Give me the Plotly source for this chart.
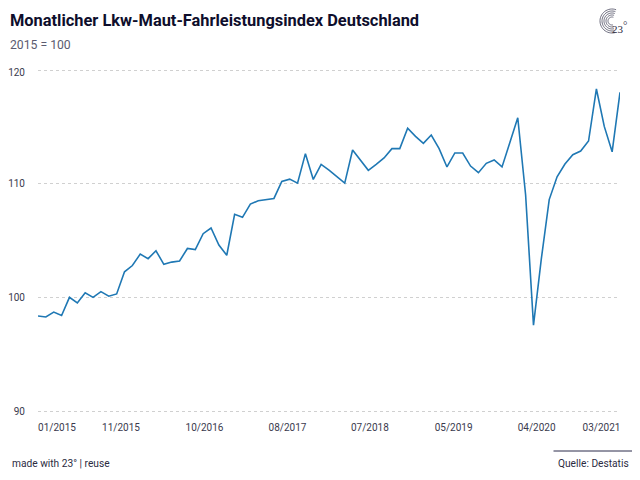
import math
import plotly.graph_objects as go

W, H = 632, 472
OFF = 8
months = [f"{m:02d}/{y}" for y in range(2015, 2022) for m in range(1, 13)][:75]
values = [98.36, 98.27, 98.7, 98.4, 100.0, 99.5, 100.4, 100.0, 100.5, 100.1, 100.3, 102.25,
          102.8, 103.8, 103.4, 104.1, 102.9, 103.1, 103.2, 104.3, 104.2, 105.6, 106.1, 104.6, 103.7,
          107.3, 107.04, 108.2, 108.5, 108.6, 108.7, 110.2, 110.4, 110.05, 112.64, 110.37, 111.7,
          111.2, 110.6, 110.05, 112.96, 112.1, 111.17, 111.7, 112.26, 113.08, 113.08, 114.87, 114.16,
          113.55, 114.28, 113.08, 111.47, 112.7, 112.7, 111.55, 110.97, 111.79, 112.08, 111.47, 113.6,
          115.8, 109.0, 97.55, 103.4, 108.6, 110.6, 111.73, 112.55, 112.87, 113.75, 118.33, 115.04,
          112.8, 118.04]
tick_text = ["01/2015", "11/2015", "10/2016", "08/2017", "07/2018", "05/2019", "04/2020", "03/2021"]
tick_pos = [2.42, 10.55, 21.17, 31.72, 42.2, 52.85, 63.4, 71.65]
y_ticks = [90, 100, 110, 120]
title = "Monatlicher Lkw-Maut-Fahrleistungsindex Deutschland"
subtitle = "2015 = 100"
footer_left = "made with 23° | reuse"
footer_right = "Quelle: Destatis"

def px(x): return (x - OFF) / W
def py(y): return 1 - (y - OFF) / H

def arc(cx, cy, r, a0, a1, n=30):
    pts = []
    for i in range(n + 1):
        a = math.radians(a0 + (a1 - a0) * i / n)
        pts.append((px(cx + r * math.cos(a)), py(cy - r * math.sin(a))))
    return "M" + " L".join(f"{a:.5f},{b:.5f}" for a, b in pts)

fig = go.Figure()
fig.add_trace(go.Scatter(x=months, y=values, mode="lines", showlegend=False, hoverinfo="skip",
                         line=dict(color="#1f78b4", width=1.6)))
fig.add_trace(go.Scatter(x=[], y=[], yaxis="y2", showlegend=False, hoverinfo="skip"))

shapes = [dict(type="line", xref="paper", yref="paper", x0=px(553.5), x1=px(635), y0=py(451), y1=py(451),
               line=dict(color="#2b2b4b", width=1))]
for r in (12, 10, 8, 6, 4):
    shapes.append(dict(type="path", xref="paper", yref="paper", path=arc(612, 21, r, 70, 285),
                       line=dict(color="#4a4a60", width=0.8)))

def note(text, x, y, size, color, xanchor="left", family="Roboto", bold=False):
    return dict(text=f"<b>{text}</b>" if bold else text, x=px(x), y=py(y), xref="paper", yref="paper",
                xanchor=xanchor, yanchor="middle", showarrow=False, xshift=-2,
                font=dict(family=family, size=size, color=color), align="left")

annotations = [
    note(title, 10, 20, 16.4, "#0e0e2c", bold=True),
    note(subtitle, 10, 45, 12.2, "#5b5b70"),
    note(footer_left, 12, 463.5, 10.2, "#2b2b3f"),
    note(footer_right, 558, 463.5, 10.2, "#2b2b3f"),
    note("23", 612, 29, 11, "#2b2b3f", family="Liberation Serif"),
    note("°", 623, 25, 11, "#2b2b3f", family="Liberation Serif"),
]

pad = 0.1
yrange = [90 - pad, 120 + pad]
ydomain = [py(411 + pad * 341 / 30), py(70 - pad * 341 / 30)]

fig.update_layout(
    width=W, height=H, margin=dict(l=0, r=0, t=0, b=0), autosize=False,
    paper_bgcolor="white", plot_bgcolor="white", showlegend=False,
    font=dict(family="Roboto", size=10, color="#3a3a4e"),
    xaxis=dict(type="category", domain=[px(38), px(620)], range=[0, 74], categoryorder="array", automargin=False,
               categoryarray=months, tickmode="array", tickvals=tick_pos, ticktext=tick_text,
               showgrid=False, zeroline=False, showline=False, ticks="outside", ticklen=6,
               tickcolor="rgba(0,0,0,0)", tickfont=dict(family="Roboto", size=10, color="#3a3a4e")),
    yaxis=dict(domain=ydomain, range=yrange, tickmode="array", tickvals=y_ticks, automargin=False,
               showticklabels=False, showgrid=True, gridcolor="#d0d0d0", griddash="3px,3px", gridwidth=1,
               zeroline=False, showline=False),
    yaxis2=dict(domain=ydomain, range=yrange, overlaying="y", side="left", tickmode="array",
                tickvals=[90, 100, 110, 119.75], ticktext=[str(v) for v in y_ticks], showgrid=False, automargin=False,
                zeroline=False, showline=False, ticks="outside", ticklen=10, tickcolor="rgba(0,0,0,0)",
                tickfont=dict(family="Roboto", size=10, color="#3a3a4e")),
    shapes=shapes, annotations=annotations,
)
fig.write_html("out.html")
